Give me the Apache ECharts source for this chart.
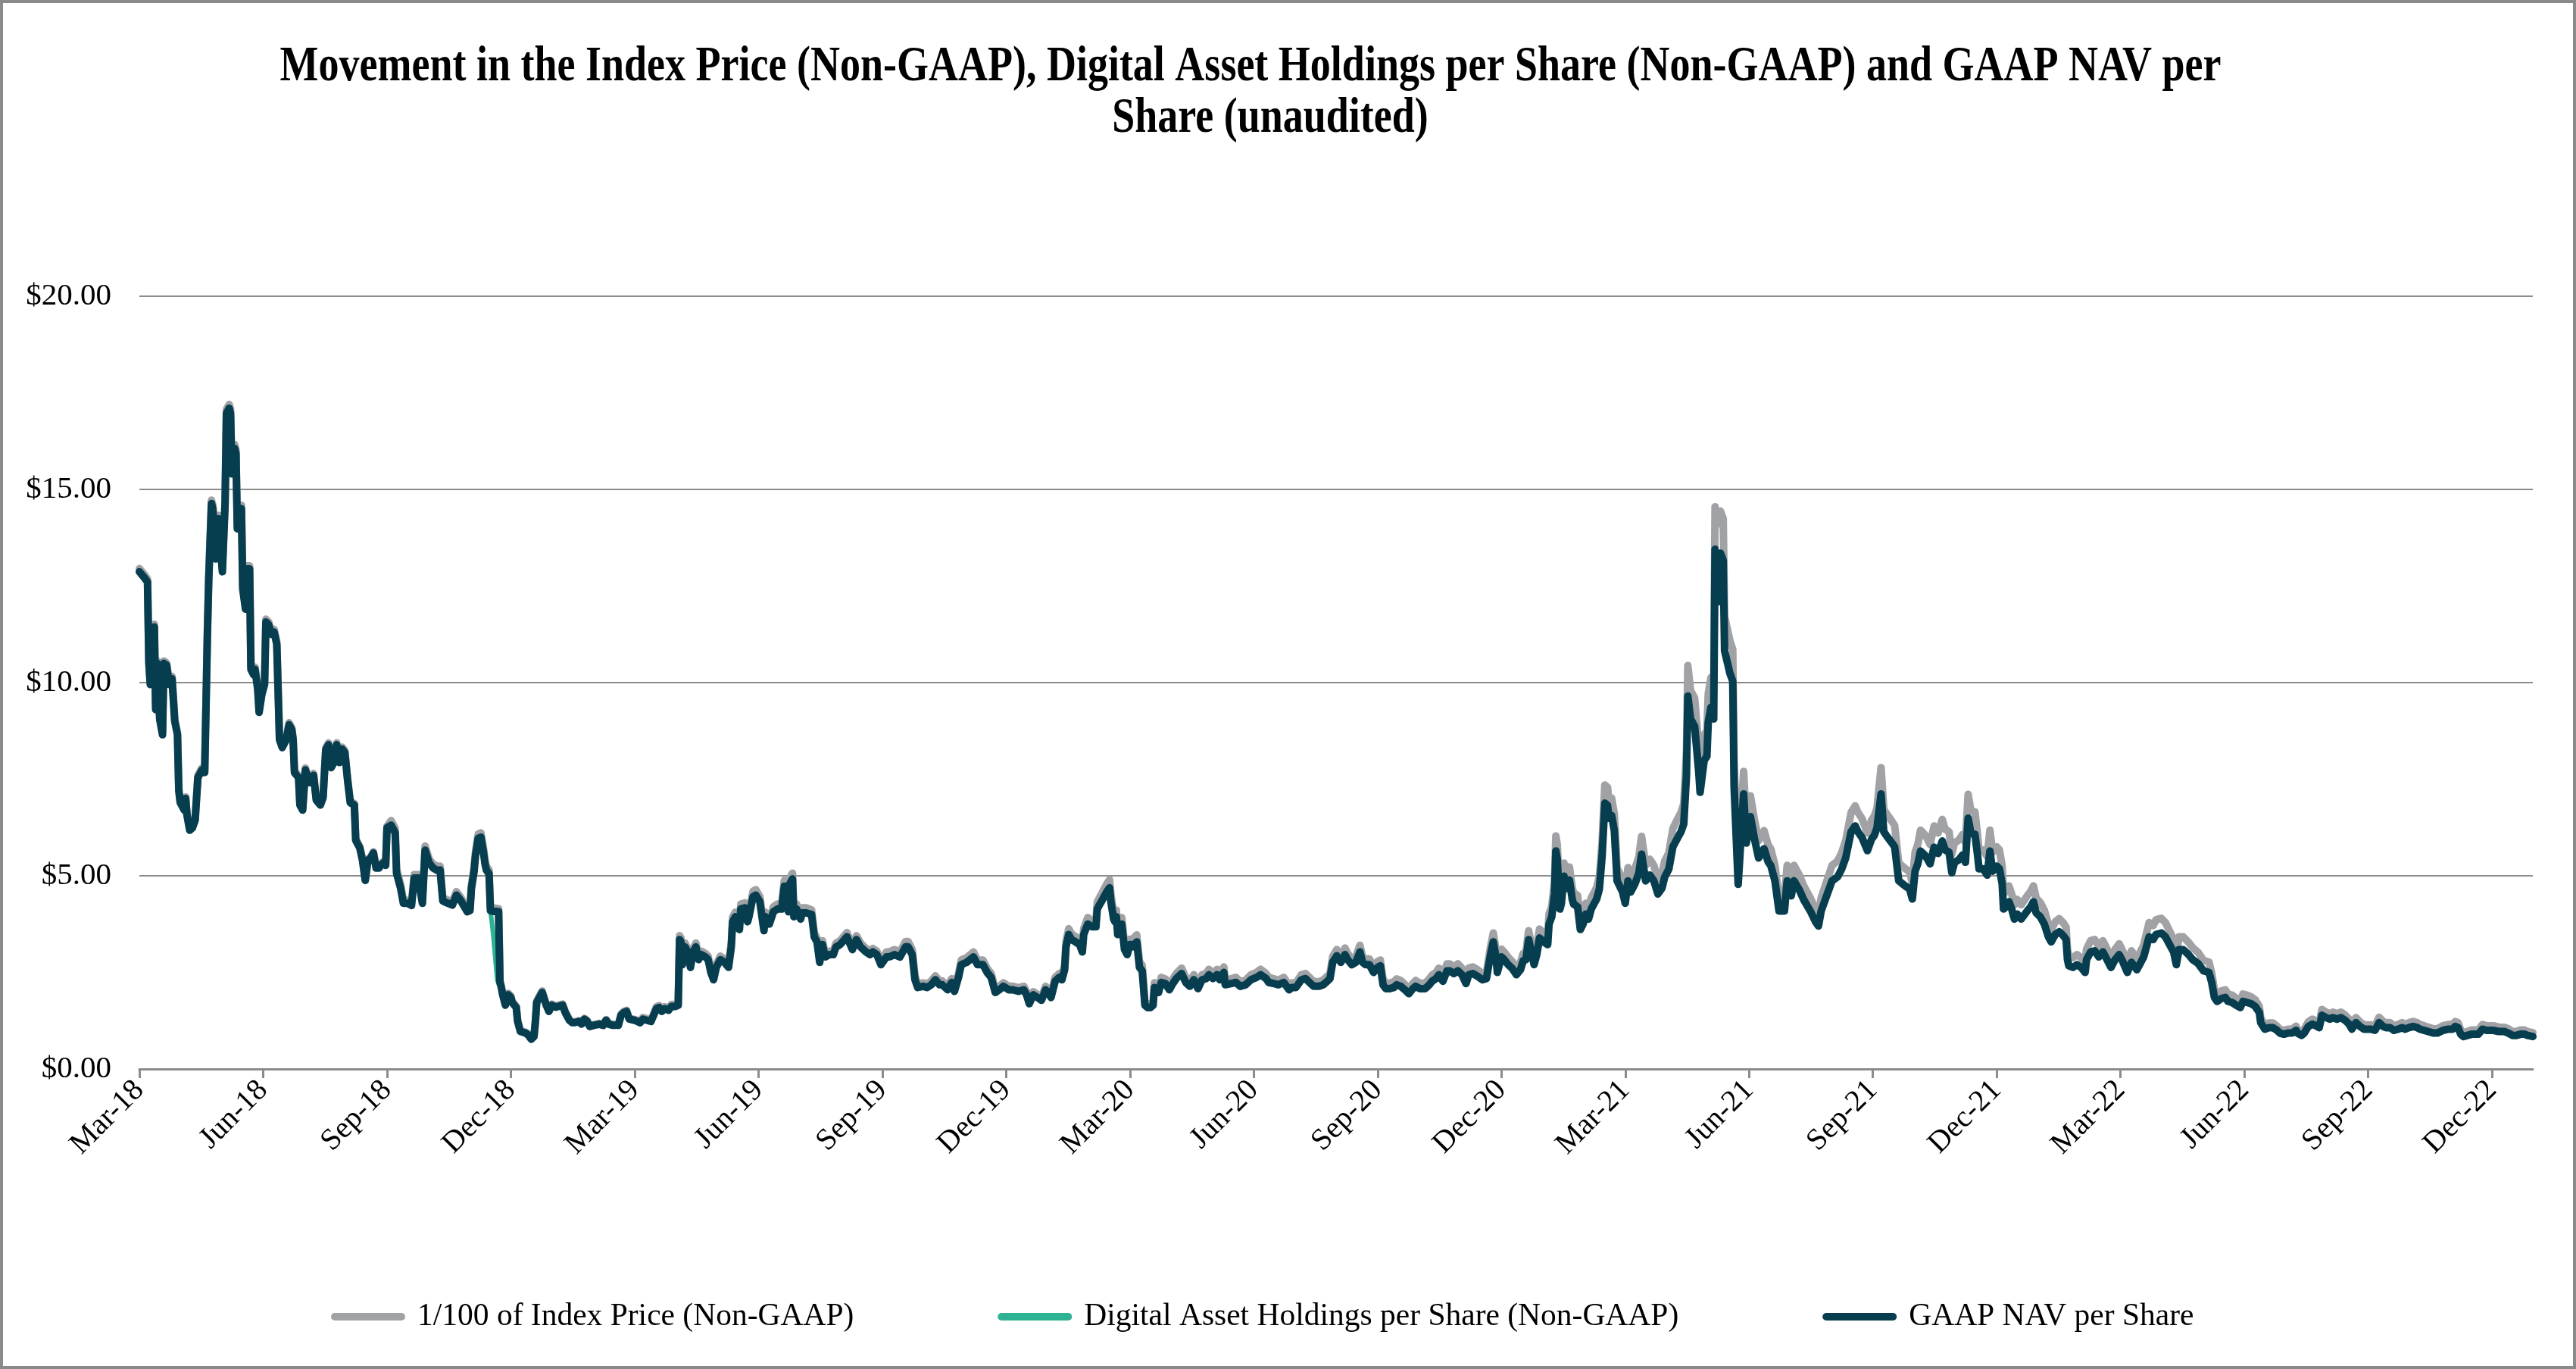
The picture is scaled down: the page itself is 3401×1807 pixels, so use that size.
<!DOCTYPE html>
<html>
<head>
<meta charset="utf-8">
<script src="https://cdn.jsdelivr.net/npm/echarts@6/dist/echarts.min.js"></script>
<style>
html,body{margin:0;padding:0;background:#fff;}
#chart{width:3401px;height:1807px;}
</style>
</head>
<body>
<div id="chart"></div>
<script>
// x positions: day index from the first data point (axis spans 1760 daily points)
const tickLabels = ['Mar-18','Jun-18','Sep-18','Dec-18','Mar-19','Jun-19','Sep-19','Dec-19','Mar-20','Jun-20',
  'Sep-20','Dec-20','Mar-21','Jun-21','Sep-21','Dec-21','Mar-22','Jun-22','Sep-22','Dec-22'];
const daysPerTick = 91;
const lastDay = 1759;

const days = [
  0,4,6,7,8,10,11,12,13,15,17,18,20,22,24,26,28,29,30,33,34,35,37,39,41,43,46,48,49,50,51,53,54,56,58,59,61,63,64,66,67,68,70,71,72,73,75,76,78,79,81,82,84,85,87,88,90,92,93,95,97,99,101,103,105,108,110,112,113,114,117,118,120,122,125,128,130,133,135,137,139,141,143,145,147,149,151,153,155,158,159,162,164,166,168,170,172,174,176,179,181,182,
  185,188,189,192,194,197,200,202,205,208,210,213,216,219,221,223,226,230,233,236,241,243,244,246,247,249,251,253,254,255,257,258,260,262,263,264,265,266,267,269,271,273,274,277,278,280,284,286,288,290,291,292,294,296,299,301,303,306,311,313,316,318,320,323,325,327,329,331,334,338,341,343,345,348,352,354,356,358,360,364,
  368,370,373,376,378,380,382,384,386,389,391,394,396,397,398,399,401,403,405,407,409,411,413,416,418,420,422,424,427,430,433,435,436,438,441,442,445,447,448,451,453,456,459,460,463,466,469,472,474,477,478,480,481,483,486,487,490,494,496,498,500,502,504,507,510,512,515,520,524,527,530,534,537,539,542,545,
  549,551,555,559,563,565,568,570,572,576,579,582,585,588,590,594,597,599,602,604,608,613,616,620,623,626,629,632,635,639,642,646,650,652,654,657,660,663,666,668,670,673,676,678,680,681,683,685,688,691,693,694,697,700,703,704,706,707,709,711,713,714,716,717,718,719,722,724,726,728,730,
  731,733,735,737,739,741,743,745,746,749,751,754,757,759,762,766,769,772,775,778,781,784,786,789,792,794,797,798,802,806,809,813,817,821,824,828,830,834,837,841,845,847,850,854,857,860,863,867,870,873,875,877,880,883,886,888,891,894,897,899,901,904,907,910,912,
  914,916,919,922,924,927,930,933,936,938,941,945,948,950,953,955,958,961,963,966,969,972,975,977,980,983,987,990,993,995,997,998,1001,1003,1006,1009,1012,1015,1017,1019,1021,1023,1025,1027,1029,1032,1035,1036,1038,1040,1041,1042,1044,1045,1047,1048,1050,1051,1053,1054,1057,1059,1061,1063,1065,1067,1069,1071,1073,1075,1077,1079,1080,1082,1084,1086,1090,1092,1094,
  1096,1099,1102,1104,1107,1110,1113,1116,1119,1121,1124,1127,1130,1133,1135,1137,1138,1140,1143,1146,1147,1150,1152,1153,1155,1157,1158,1159,1160,1162,1164,1165,1167,1169,1171,1172,1175,1179,1181,1184,1187,1190,1194,1197,1199,1202,1205,1209,1211,1214,1216,1220,1223,1228,1232,1234,1236,1240,1244,1248,1251,1254,1258,1261,1263,1266,1270,1273,1275,1277,
  1280,1282,1285,1288,1290,1293,1298,1301,1303,1305,1307,1309,1312,1314,1316,1319,1322,1325,1327,1330,1332,1334,1337,1340,1342,1344,1346,1349,1351,1352,1355,1358,1360,1362,1365,1367,1369,1370,1372,1374,1376,1378,1380,1383,1387,1390,1392,1394,1397,1400,1403,1405,1408,1411,1414,1416,1417,1418,1421,1424,1427,1430,1431,1434,1437,1440,1443,1445,1449,1452,1455,1457,
  1461,1464,1468,1470,1473,1477,1480,1482,1486,1489,1492,1495,1497,1499,1502,1506,1509,1513,1517,1521,1523,1525,1527,1530,1533,1535,1538,1541,1544,1546,1549,1552,1555,1558,1559,1562,1565,1568,1571,1573,1576,1579,1582,1585,1586,1589,1591,1594,1597,1599,1602,1604,1607,1610,1612,1615,1618,1621,1624,1626,1629,1632,1635,1637,1640,
  1643,1646,1649,1651,1654,1657,1660,1663,1665,1668,1671,1674,1676,1679,1682,1686,1689,1693,1697,1700,1702,1704,1706,1708,1711,1714,1716,1719,1722,1725,1727,1730,1734,1738,1741,1744,1747,1750,1753,1755,1759
];

const indexPrice = [
  12.95,12.78,12.68,10.56,10.01,11.47,11.51,9.36,10.56,9.09,8.70,10.56,10.51,10.01,10.16,9.05,8.70,7.24,6.94,6.74,7.04,6.61,6.22,6.28,6.48,7.59,7.79,7.72,9.49,11.32,12.76,14.72,14.59,13.28,14.33,14.33,12.95,14.72,17.07,17.20,17.07,15.49,16.16,16.03,14.06,14.59,14.59,12.49,11.97,13.02,13.02,10.40,10.26,10.40,9.88,9.29,9.75,10.01,11.64,11.57,11.32,11.38,11.06,8.57,8.37,8.57,8.96,8.83,8.57,7.72,7.59,6.87,6.74,7.79,7.45,7.65,7.00,6.87,7.06,8.31,8.44,7.85,7.98,8.44,7.98,8.33,8.24,7.52,6.93,6.87,5.96,5.75,5.43,4.91,5.43,5.49,5.62,5.23,5.23,5.36,5.30,6.28,
  6.43,6.23,5.17,4.77,4.37,4.37,4.31,5.03,5.03,4.37,5.77,5.43,5.30,5.24,5.25,4.43,4.38,4.32,4.59,4.45,4.15,4.18,4.75,5.22,5.61,6.08,6.11,5.69,5.41,5.25,5.15,4.18,4.16,4.16,4.15,4.15,2.29,2.15,1.96,1.68,1.96,1.89,1.75,1.62,1.25,0.99,0.95,0.89,0.78,0.86,1.22,1.75,1.89,2.02,1.68,1.52,1.68,1.63,1.68,1.49,1.28,1.22,1.22,1.25,1.18,1.31,1.26,1.12,1.15,1.18,1.15,1.28,1.18,1.15,1.15,1.42,1.49,1.52,1.31,1.28,
  1.24,1.33,1.30,1.27,1.43,1.61,1.64,1.54,1.61,1.57,1.67,1.67,1.70,3.45,3.39,2.78,3.26,3.12,2.71,3.12,3.26,2.92,3.05,2.99,2.92,2.58,2.38,2.71,2.92,2.85,2.71,3.26,3.93,4.06,3.72,4.27,4.30,3.93,4.06,4.60,4.64,4.46,3.69,4.06,3.87,4.20,4.27,4.27,4.88,4.20,4.94,5.07,4.06,4.27,4.00,4.17,4.17,4.12,3.53,3.39,2.85,3.32,2.99,3.05,3.05,3.26,3.32,3.53,3.19,3.45,3.26,3.12,3.05,3.12,3.05,2.78,
  3.03,3.03,3.09,3.03,3.30,3.30,3.09,2.41,2.20,2.23,2.20,2.28,2.41,2.28,2.28,2.14,2.34,2.10,2.47,2.82,2.88,3.03,2.82,2.82,2.61,2.47,2.07,2.14,2.23,2.14,2.14,2.10,2.14,2.00,1.76,2.00,1.93,1.86,2.14,2.07,1.93,2.37,2.47,2.41,2.68,3.30,3.63,3.50,3.43,3.36,3.16,3.63,3.92,3.84,3.84,4.32,4.46,4.52,4.66,4.79,4.90,4.52,4.05,3.98,4.11,3.63,3.92,3.23,3.09,3.36,3.36,
  3.34,3.47,2.78,2.68,1.74,1.68,1.68,1.74,2.23,2.09,2.37,2.33,2.16,2.30,2.47,2.61,2.37,2.26,2.44,2.20,2.44,2.47,2.58,2.47,2.58,2.44,2.64,2.30,2.33,2.37,2.26,2.30,2.44,2.50,2.58,2.47,2.37,2.33,2.30,2.37,2.16,2.23,2.23,2.44,2.47,2.37,2.26,2.26,2.30,2.40,2.47,2.91,3.09,2.91,3.13,2.99,2.85,2.91,3.20,2.91,2.85,2.85,2.64,2.78,2.82,
  2.33,2.22,2.22,2.26,2.33,2.29,2.19,2.08,2.22,2.29,2.22,2.22,2.33,2.43,2.50,2.61,2.43,2.72,2.72,2.64,2.72,2.61,2.36,2.61,2.64,2.58,2.47,2.50,3.16,3.52,3.10,2.67,3.10,3.03,2.89,2.78,2.61,2.75,2.99,3.03,3.58,3.24,2.89,3.16,3.62,3.52,3.44,4.01,4.21,4.84,6.03,5.82,4.43,4.56,5.33,4.98,5.15,5.23,4.70,4.56,4.49,3.86,4.01,4.29,4.15,4.43,4.56,4.70,4.98,5.89,7.35,7.29,6.94,7.01,6.59,5.21,4.90,4.59,5.21,
  4.96,5.17,5.49,6.02,5.27,5.43,5.27,4.90,5.06,5.38,5.59,6.22,6.44,6.64,6.86,8.22,10.44,9.80,9.60,8.33,7.75,8.65,8.75,9.71,10.13,9.80,14.55,14.24,14.10,14.44,14.24,11.71,11.39,11.07,10.86,7.91,5.17,7.70,6.33,7.07,6.44,5.91,6.17,5.80,5.69,5.27,4.43,4.43,5.27,4.85,5.27,5.01,4.75,4.43,4.11,4.00,4.43,4.85,5.27,5.38,5.59,5.91,6.64,6.81,6.64,6.48,6.11,6.44,6.54,6.75,
  7.80,6.72,6.56,6.41,6.30,5.33,5.18,5.10,4.82,5.61,5.81,6.18,6.07,5.96,5.81,6.29,6.11,6.46,6.21,6.14,5.56,5.86,5.92,6.07,5.86,7.11,6.68,6.65,6.03,5.67,5.67,5.50,6.18,5.61,5.75,5.67,5.25,4.53,4.60,4.74,4.53,4.25,4.39,4.25,4.46,4.60,4.74,4.42,4.31,4.11,3.74,3.60,3.81,3.89,3.78,3.67,3.10,2.92,2.88,2.96,2.88,2.74,3.10,3.32,3.35,3.18,3.32,3.18,2.88,3.10,3.24,3.10,
  2.77,3.06,2.85,2.99,3.21,3.79,3.71,3.86,3.90,3.79,3.57,3.36,2.99,3.42,3.42,3.28,3.14,3.02,2.81,2.77,2.48,2.05,1.94,2.02,2.05,1.94,1.91,1.83,1.76,1.94,1.91,1.87,1.79,1.62,1.33,1.14,1.19,1.19,1.11,1.03,1.00,1.03,1.03,1.11,1.03,0.96,1.03,1.22,1.29,1.25,1.19,1.54,1.47,1.43,1.47,1.43,1.47,1.40,1.29,1.14,1.33,1.22,1.14,1.14,1.14,
  1.12,1.34,1.23,1.20,1.20,1.12,1.15,1.20,1.15,1.20,1.23,1.20,1.15,1.12,1.08,1.04,1.04,1.12,1.15,1.15,1.23,1.20,1.01,0.94,0.97,1.01,1.01,1.01,1.15,1.12,1.12,1.12,1.08,1.08,1.04,0.97,0.97,1.01,1.01,0.97,0.94
];

const navPerShare = [
  12.87,12.70,12.60,10.50,9.95,11.40,11.44,9.30,10.50,9.04,8.65,10.50,10.45,9.95,10.10,9.00,8.65,7.20,6.90,6.70,7.00,6.57,6.18,6.24,6.44,7.54,7.74,7.67,9.43,11.25,12.68,14.63,14.50,13.20,14.24,14.24,12.87,14.63,16.97,17.10,16.97,15.40,16.06,15.93,13.98,14.50,14.50,12.42,11.90,12.94,12.94,10.34,10.20,10.34,9.82,9.23,9.69,9.95,11.57,11.50,11.25,11.31,10.99,8.52,8.32,8.52,8.91,8.78,8.52,7.67,7.54,6.83,6.70,7.74,7.41,7.60,6.96,6.83,7.02,8.26,8.39,7.80,7.93,8.39,7.93,8.28,8.19,7.48,6.89,6.83,5.92,5.72,5.40,4.88,5.40,5.46,5.59,5.20,5.20,5.33,5.27,6.24,
  6.31,6.11,5.07,4.68,4.29,4.29,4.23,4.94,4.94,4.29,5.66,5.33,5.20,5.14,5.15,4.35,4.30,4.24,4.50,4.37,4.07,4.10,4.66,5.12,5.51,5.97,6.00,5.58,5.31,5.15,5.05,4.10,4.08,4.08,4.07,4.07,2.25,2.11,1.92,1.65,1.92,1.85,1.72,1.59,1.23,0.97,0.93,0.87,0.77,0.84,1.20,1.72,1.85,1.98,1.65,1.49,1.65,1.60,1.65,1.46,1.26,1.20,1.20,1.23,1.16,1.29,1.24,1.10,1.13,1.16,1.13,1.26,1.16,1.13,1.13,1.39,1.46,1.49,1.29,1.26,
  1.20,1.29,1.26,1.23,1.39,1.56,1.59,1.49,1.56,1.52,1.62,1.62,1.65,3.35,3.29,2.70,3.16,3.03,2.63,3.03,3.16,2.83,2.96,2.90,2.83,2.50,2.31,2.63,2.83,2.76,2.63,3.16,3.81,3.94,3.61,4.14,4.17,3.81,3.94,4.46,4.50,4.33,3.58,3.94,3.75,4.07,4.14,4.14,4.73,4.07,4.79,4.92,3.94,4.14,3.88,4.04,4.04,4.00,3.42,3.29,2.76,3.22,2.90,2.96,2.96,3.16,3.22,3.42,3.09,3.35,3.16,3.03,2.96,3.03,2.96,2.70,
  2.90,2.90,2.96,2.90,3.16,3.16,2.96,2.31,2.11,2.14,2.11,2.18,2.31,2.18,2.18,2.05,2.24,2.01,2.37,2.70,2.76,2.90,2.70,2.70,2.50,2.37,1.98,2.05,2.14,2.05,2.05,2.01,2.05,1.92,1.69,1.92,1.85,1.78,2.05,1.98,1.85,2.27,2.37,2.31,2.57,3.16,3.48,3.35,3.29,3.22,3.03,3.48,3.75,3.68,3.68,4.14,4.27,4.33,4.46,4.59,4.69,4.33,3.88,3.81,3.94,3.48,3.75,3.09,2.96,3.22,3.22,
  3.16,3.29,2.63,2.54,1.65,1.59,1.59,1.65,2.11,1.98,2.24,2.21,2.05,2.18,2.34,2.47,2.24,2.14,2.31,2.08,2.31,2.34,2.44,2.34,2.44,2.31,2.50,2.18,2.21,2.24,2.14,2.18,2.31,2.37,2.44,2.34,2.24,2.21,2.18,2.24,2.05,2.11,2.11,2.31,2.34,2.24,2.14,2.14,2.18,2.27,2.34,2.76,2.93,2.76,2.96,2.83,2.70,2.76,3.03,2.76,2.70,2.70,2.50,2.63,2.67,
  2.18,2.08,2.08,2.11,2.18,2.14,2.05,1.95,2.08,2.14,2.08,2.08,2.18,2.27,2.34,2.44,2.27,2.54,2.54,2.47,2.54,2.44,2.21,2.44,2.47,2.41,2.31,2.34,2.96,3.29,2.90,2.50,2.90,2.83,2.70,2.60,2.44,2.57,2.80,2.83,3.35,3.03,2.70,2.96,3.39,3.29,3.22,3.75,3.94,4.53,5.64,5.44,4.14,4.27,4.99,4.66,4.82,4.89,4.40,4.27,4.20,3.61,3.75,4.01,3.88,4.14,4.27,4.40,4.66,5.51,6.88,6.82,6.49,6.56,6.16,4.87,4.58,4.29,4.87,
  4.58,4.78,5.07,5.56,4.87,5.02,4.87,4.53,4.68,4.97,5.17,5.75,5.95,6.14,6.34,7.60,9.65,9.06,8.87,7.70,7.16,7.99,8.09,8.97,9.36,9.06,13.45,13.16,12.09,13.35,13.16,10.82,10.53,10.23,10.04,7.31,4.78,7.12,5.85,6.53,5.95,5.46,5.70,5.36,5.26,4.87,4.09,4.09,4.87,4.48,4.87,4.63,4.39,4.09,3.80,3.70,4.09,4.48,4.87,4.97,5.17,5.46,6.14,6.29,6.14,5.99,5.65,5.95,6.04,6.24,
  7.12,6.14,5.99,5.85,5.75,4.87,4.73,4.66,4.40,5.12,5.31,5.64,5.54,5.44,5.31,5.74,5.58,5.90,5.67,5.61,5.08,5.35,5.41,5.54,5.35,6.49,6.10,6.07,5.51,5.18,5.18,5.02,5.64,5.12,5.25,5.18,4.79,4.14,4.20,4.33,4.14,3.88,4.01,3.88,4.07,4.20,4.33,4.04,3.94,3.75,3.42,3.29,3.48,3.55,3.45,3.35,2.83,2.67,2.63,2.70,2.63,2.50,2.83,3.03,3.06,2.90,3.03,2.90,2.63,2.83,2.96,2.83,
  2.50,2.76,2.57,2.70,2.90,3.42,3.35,3.48,3.52,3.42,3.22,3.03,2.70,3.09,3.09,2.96,2.83,2.73,2.54,2.50,2.24,1.85,1.75,1.82,1.85,1.75,1.72,1.65,1.59,1.75,1.72,1.69,1.62,1.46,1.20,1.03,1.07,1.07,1.00,0.93,0.90,0.93,0.93,1.00,0.93,0.87,0.93,1.10,1.16,1.13,1.07,1.39,1.33,1.29,1.33,1.29,1.33,1.26,1.16,1.03,1.20,1.10,1.03,1.03,1.03,
  1.00,1.20,1.10,1.07,1.07,1.00,1.03,1.07,1.03,1.07,1.10,1.07,1.03,1.00,0.97,0.93,0.93,1.00,1.03,1.03,1.10,1.07,0.90,0.84,0.87,0.90,0.90,0.90,1.03,1.00,1.00,1.00,0.97,0.97,0.93,0.87,0.87,0.90,0.90,0.87,0.84
];

const holdingsPerShare = [
  12.87,12.70,12.60,10.50,9.95,11.40,11.44,9.30,10.50,9.04,8.65,10.50,10.45,9.95,10.10,9.00,8.65,7.20,6.90,6.70,7.00,6.57,6.18,6.24,6.44,7.54,7.74,7.67,9.43,11.25,12.68,14.63,14.50,13.20,14.24,14.24,12.87,14.63,16.97,17.10,16.97,15.40,16.06,15.93,13.98,14.50,14.50,12.42,11.90,12.94,12.94,10.34,10.20,10.34,9.82,9.23,9.69,9.95,11.57,11.50,11.25,11.31,10.99,8.52,8.32,8.52,8.91,8.78,8.52,7.67,7.54,6.83,6.70,7.74,7.41,7.60,6.96,6.83,7.02,8.26,8.39,7.80,7.93,8.39,7.93,8.28,8.19,7.48,6.89,6.83,5.92,5.72,5.40,4.88,5.40,5.46,5.59,5.20,5.20,5.33,5.27,6.24,
  6.31,6.11,5.07,4.68,4.29,4.29,4.23,4.94,4.94,4.29,5.66,5.33,5.20,5.14,5.15,4.35,4.30,4.24,4.50,4.37,4.07,4.10,4.66,5.12,5.51,5.97,6.00,5.58,5.31,5.15,5.05,4.10,3.50,2.70,2.30,2.20,2.18,2.11,1.92,1.65,1.92,1.85,1.72,1.59,1.23,0.97,0.93,0.87,0.77,0.84,1.20,1.72,1.85,1.98,1.65,1.49,1.65,1.60,1.65,1.46,1.26,1.20,1.20,1.23,1.16,1.29,1.24,1.10,1.13,1.16,1.13,1.26,1.16,1.13,1.13,1.39,1.46,1.49,1.29,1.26,
  1.20,1.29,1.26,1.23,1.39,1.56,1.59,1.49,1.56,1.52,1.62,1.62,1.65,3.35,3.29,2.70,3.16,3.03,2.63,3.03,3.16,2.83,2.96,2.90,2.83,2.50,2.31,2.63,2.83,2.76,2.63,3.16,3.81,3.94,3.61,4.14,4.17,3.81,3.94,4.46,4.50,4.33,3.58,3.94,3.75,4.07,4.14,4.14,4.73,4.07,4.79,4.92,3.94,4.14,3.88,4.04,4.04,4.00,3.42,3.29,2.76,3.22,2.90,2.96,2.96,3.16,3.22,3.42,3.09,3.35,3.16,3.03,2.96,3.03,2.96,2.70,
  2.90,2.90,2.96,2.90,3.16,3.16,2.96,2.31,2.11,2.14,2.11,2.18,2.31,2.18,2.18,2.05,2.24,2.01,2.37,2.70,2.76,2.90,2.70,2.70,2.50,2.37,1.98,2.05,2.14,2.05,2.05,2.01,2.05,1.92,1.69,1.92,1.85,1.78,2.05,1.98,1.85,2.27,2.37,2.31,2.57,3.16,3.48,3.35,3.29,3.22,3.03,3.48,3.75,3.68,3.68,4.14,4.27,4.33,4.46,4.59,4.69,4.33,3.88,3.81,3.94,3.48,3.75,3.09,2.96,3.22,3.22,
  3.16,3.29,2.63,2.54,1.65,1.59,1.59,1.65,2.11,1.98,2.24,2.21,2.05,2.18,2.34,2.47,2.24,2.14,2.31,2.08,2.31,2.34,2.44,2.34,2.44,2.31,2.50,2.18,2.21,2.24,2.14,2.18,2.31,2.37,2.44,2.34,2.24,2.21,2.18,2.24,2.05,2.11,2.11,2.31,2.34,2.24,2.14,2.14,2.18,2.27,2.34,2.76,2.93,2.76,2.96,2.83,2.70,2.76,3.03,2.76,2.70,2.70,2.50,2.63,2.67,
  2.18,2.08,2.08,2.11,2.18,2.14,2.05,1.95,2.08,2.14,2.08,2.08,2.18,2.27,2.34,2.44,2.27,2.54,2.54,2.47,2.54,2.44,2.21,2.44,2.47,2.41,2.31,2.34,2.96,3.29,2.90,2.50,2.90,2.83,2.70,2.60,2.44,2.57,2.80,2.83,3.35,3.03,2.70,2.96,3.39,3.29,3.22,3.75,3.94,4.53,5.64,5.44,4.14,4.27,4.99,4.66,4.82,4.89,4.40,4.27,4.20,3.61,3.75,4.01,3.88,4.14,4.27,4.40,4.66,5.51,6.88,6.82,6.49,6.56,6.16,4.87,4.58,4.29,4.87,
  4.58,4.78,5.07,5.56,4.87,5.02,4.87,4.53,4.68,4.97,5.17,5.75,5.95,6.14,6.34,7.60,9.65,9.06,8.87,7.70,7.16,7.99,8.09,8.97,9.36,9.06,13.45,13.16,12.09,13.35,13.16,10.82,10.53,10.23,10.04,7.31,4.78,7.12,5.85,6.53,5.95,5.46,5.70,5.36,5.26,4.87,4.09,4.09,4.87,4.48,4.87,4.63,4.39,4.09,3.80,3.70,4.09,4.48,4.87,4.97,5.17,5.46,6.14,6.29,6.14,5.99,5.65,5.95,6.04,6.24,
  7.12,6.14,5.99,5.85,5.75,4.87,4.73,4.66,4.40,5.12,5.31,5.64,5.54,5.44,5.31,5.74,5.58,5.90,5.67,5.61,5.08,5.35,5.41,5.54,5.35,6.49,6.10,6.07,5.51,5.18,5.18,5.02,5.64,5.12,5.25,5.18,4.79,4.14,4.20,4.33,4.14,3.88,4.01,3.88,4.07,4.20,4.33,4.04,3.94,3.75,3.42,3.29,3.48,3.55,3.45,3.35,2.83,2.67,2.63,2.70,2.63,2.50,2.83,3.03,3.06,2.90,3.03,2.90,2.63,2.83,2.96,2.83,
  2.50,2.76,2.57,2.70,2.90,3.42,3.35,3.48,3.52,3.42,3.22,3.03,2.70,3.09,3.09,2.96,2.83,2.73,2.54,2.50,2.24,1.85,1.75,1.82,1.85,1.75,1.72,1.65,1.59,1.75,1.72,1.69,1.62,1.46,1.20,1.03,1.07,1.07,1.00,0.93,0.90,0.93,0.93,1.00,0.93,0.87,0.93,1.10,1.16,1.13,1.07,1.39,1.33,1.29,1.33,1.29,1.33,1.26,1.16,1.03,1.20,1.10,1.03,1.03,1.03,
  1.00,1.20,1.10,1.07,1.07,1.00,1.03,1.07,1.03,1.07,1.10,1.07,1.03,1.00,0.97,0.93,0.93,1.00,1.03,1.03,1.10,1.07,0.90,0.84,0.87,0.90,0.90,0.90,1.03,1.00,1.00,1.00,0.97,0.97,0.93,0.87,0.87,0.90,0.90,0.87,0.84
];

const seriesNames = ['1/100 of Index Price (Non-GAAP)', 'Digital Asset Holdings per Share (Non-GAAP)', 'GAAP NAV per Share'];
const seriesColors = ['#A0A2A5', '#2DB393', '#063D4F'];
const titleLines = ['Movement in the Index Price (Non-GAAP), Digital Asset Holdings per Share (Non-GAAP) and GAAP NAV per', 'Share (unaudited)'];

[indexPrice, navPerShare, holdingsPerShare].forEach(function (a, k) {
  if (a.length !== days.length) throw new Error('length mismatch in series ' + k + ': ' + a.length + ' vs ' + days.length);
});

const pair = arr => days.map((d, i) => [d, arr[i]]);
const tickDays = tickLabels.map((_, i) => i * daysPerTick);
const serif = 'Liberation Serif, Times New Roman, serif';
const pillIcon = 'path://M5,0L93,0A5,5,0,0,1,93,10L5,10A5,5,0,0,1,5,0Z';

function titleText(str, x, y) {
  return {
    type: 'text', silent: true, x: x, y: y, scaleY: 1.2,
    style: {text: str, fill: '#000', align: 'center', verticalAlign: 'bottom',
            font: 'bold 54px "Liberation Serif", "Times New Roman", serif'}
  };
}

const chart = echarts.init(document.getElementById('chart'), null, {renderer: 'canvas', width: 3401, height: 1807});
chart.setOption({
  backgroundColor: '#ffffff',
  animation: false,
  graphic: [
    titleText(titleLines[0], 1651, 122),
    titleText(titleLines[1], 1677, 190),
    {
      type: 'rect', silent: true, z: 100,
      shape: {x: 2, y: 2, width: 3397, height: 1803},
      style: {fill: 'none', stroke: '#8a8a8a', lineWidth: 4}
    }
  ],
  legend: {
    left: 432, top: 1712,
    itemWidth: 98, itemHeight: 11, itemGap: 190,
    icon: pillIcon,
    data: seriesNames,
    textStyle: {fontFamily: serif, fontSize: 41.5, color: '#000', padding: [0, 0, 0, 11]}
  },
  grid: {left: 184, right: 57, top: 391, bottom: 396, containLabel: false},
  xAxis: {
    type: 'value', min: 0, max: lastDay,
    splitLine: {show: false},
    axisLine: {show: true, lineStyle: {color: '#8c8c8c', width: 3}},
    axisTick: {show: true, length: 12, customValues: tickDays, lineStyle: {color: '#8c8c8c', width: 3}},
    axisLabel: {
      customValues: tickDays, rotate: 45, margin: 22,
      fontFamily: serif, fontSize: 40, color: '#000',
      formatter: v => tickLabels[Math.round(v / daysPerTick)] || ''
    }
  },
  yAxis: {
    type: 'value', min: 0, max: 20, interval: 5,
    axisLine: {show: false}, axisTick: {show: false},
    splitLine: {show: true, lineStyle: {color: '#8c8c8c', width: 2}},
    axisLabel: {margin: 37, fontFamily: serif, fontSize: 41, color: '#000',
      formatter: v => '$' + v.toFixed(2)}
  },
  series: [
    {name: seriesNames[0], type: 'line', data: pair(indexPrice), showSymbol: false, symbol: 'none', z: 2,
     color: seriesColors[0], lineStyle: {color: seriesColors[0], width: 10, join: 'round', cap: 'round'}},
    {name: seriesNames[1], type: 'line', data: pair(holdingsPerShare), showSymbol: false, symbol: 'none', z: 3,
     color: seriesColors[1], lineStyle: {color: seriesColors[1], width: 6, join: 'round', cap: 'round'}},
    {name: seriesNames[2], type: 'line', data: pair(navPerShare), showSymbol: false, symbol: 'none', z: 4,
     color: seriesColors[2], lineStyle: {color: seriesColors[2], width: 10, join: 'round', cap: 'round'}}
  ]
});
</script>
</body>
</html>
